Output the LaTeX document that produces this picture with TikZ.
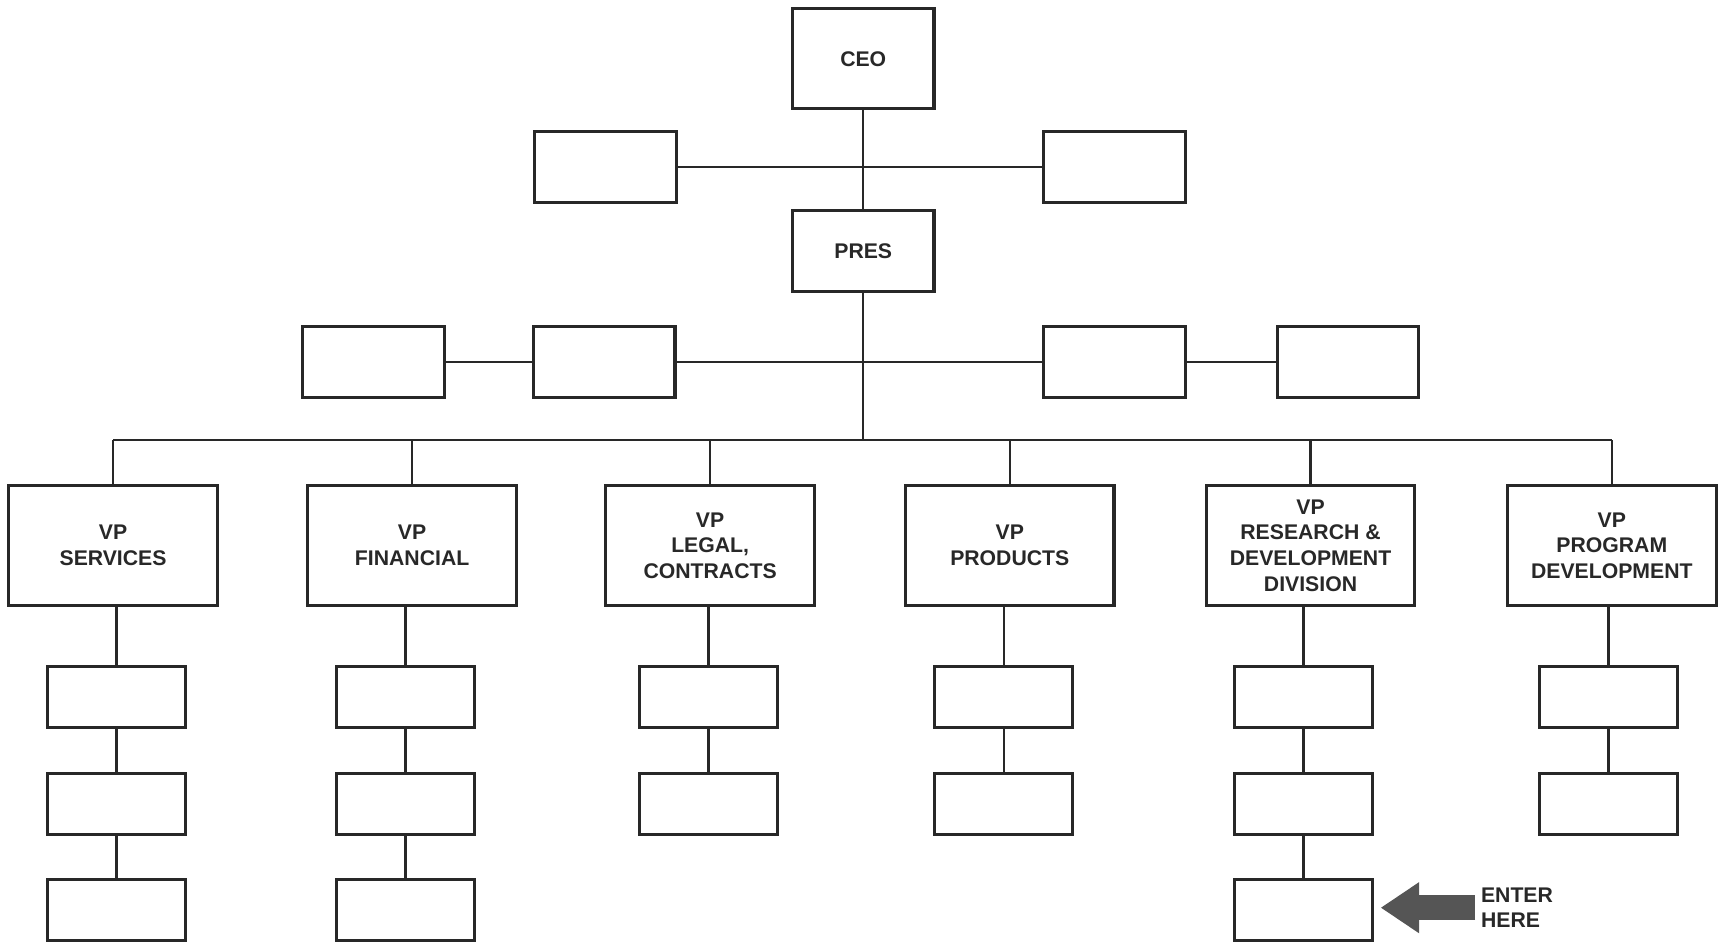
\documentclass[tikz,border=0pt]{standalone}
\usepackage{fontspec}
\setmainfont{Liberation Sans}
\usepackage{tikz}
\usetikzlibrary{arrows.meta, positioning, calc}
\definecolor{inkDark}{RGB}{40, 40, 40}
\definecolor{arrowGray}{RGB}{85, 85, 85}

\tikzset{
  chartbox/.style={draw=inkDark, line width=1.6pt, fill=white, inner sep=0pt,
    font=\bfseries\fontsize{11}{13.3}\selectfont, text=inkDark, align=center},
  vpbox/.style={chartbox, minimum width=3.8cm, minimum height=2.2cm},
  subbox/.style={chartbox, minimum width=2.52cm, minimum height=1.1cm},
  sidebox/.style={chartbox, minimum width=2.58cm, minimum height=1.29cm},
  link/.style={draw=inkDark, line width=1.2pt}
}

\begin{document}
\begin{tikzpicture}[x=0.02cm, y=-0.02cm]
    \useasboundingbox (0,0) rectangle (1568,859);
    % Top of the chart
    \node[chartbox, minimum width=2.58cm, minimum height=1.82cm] (ceo) at (786.5,53.5) {CEO};
    \node[chartbox, minimum width=2.58cm, minimum height=1.48cm] (pres) at (786.5,229) {PRES};
    \node[sidebox] (staffL) at (551.5,152) {};
    \node[sidebox] (staffR) at (1015.5,152) {};
    \draw[link] (ceo.south) -- (pres.north);
    \draw[link] (staffL.east) -- (staffR.west);
    % Boxes beside the president
    \node[sidebox] (asstA) at (340.5,329.5) {};
    \node[sidebox] (asstB) at (550.5,329.5) {};
    \node[sidebox] (asstC) at (1015.5,329.5) {};
    \node[sidebox] (asstD) at (1228,329.5) {};
    \draw[link] (asstA.east) -- (asstB.west);
    \draw[link] (asstB.east) -- (asstC.west);
    \draw[link] (asstC.east) -- (asstD.west);
    % Vice presidents
    \foreach \i/\x/\txt in {1/103/{VP\\SERVICES}, 2/375.5/{VP\\FINANCIAL},
        3/647/{VP\\LEGAL,\\CONTRACTS}, 4/920/{VP\\PRODUCTS},
        5/1194/{VP\\RESEARCH \&\\DEVELOPMENT\\DIVISION},
        6/1468.5/{VP\\PROGRAM\\DEVELOPMENT}}
      \node[vpbox] (vp\i) at (\x,497) {\txt};
    \coordinate (bus) at (786.5,401);
    \draw[link] (pres.south) -- (bus);
    \draw[link] (vp1.north |- bus) -- (vp6.north |- bus);
    \foreach \i in {1,...,6}
      \draw[link] (vp\i.north |- bus) -- (vp\i.north);
    % Boxes under each VP
    \foreach \i/\x/\n in {1/106/3, 2/369.5/3, 3/645.5/2, 4/914.5/2, 5/1187.5/3, 6/1465.5/2} {
      \foreach \r/\y in {1/635, 2/732.5, 3/829} {
        \ifnum\r>\n\else
          \node[subbox] (s\i\r) at (\x,\y) {};
        \fi
      }
      \draw[link] (s\i1.north) -- (s\i1.north |- vp\i.south);
      \foreach \r in {2,...,\n} {
        \pgfmathtruncatemacro\p{\r-1}
        \draw[link] (s\i\p.south) -- (s\i\r.north);
      }
    }
    % Pointer
    \node[anchor=west, inner sep=0pt, align=left, text=inkDark,
      font=\bfseries\fontsize{11}{13.3}\selectfont] (enter) at (1349,827) {ENTER\\HERE};
    \draw[arrowGray, line width=0.45cm, -{Triangle[length=0.7cm, width=0.88cm]}]
      ([xshift=-0.1cm]enter.west) -- ([xshift=0.12cm]enter.west -| s53.east);
  \end{tikzpicture}
\end{document}
